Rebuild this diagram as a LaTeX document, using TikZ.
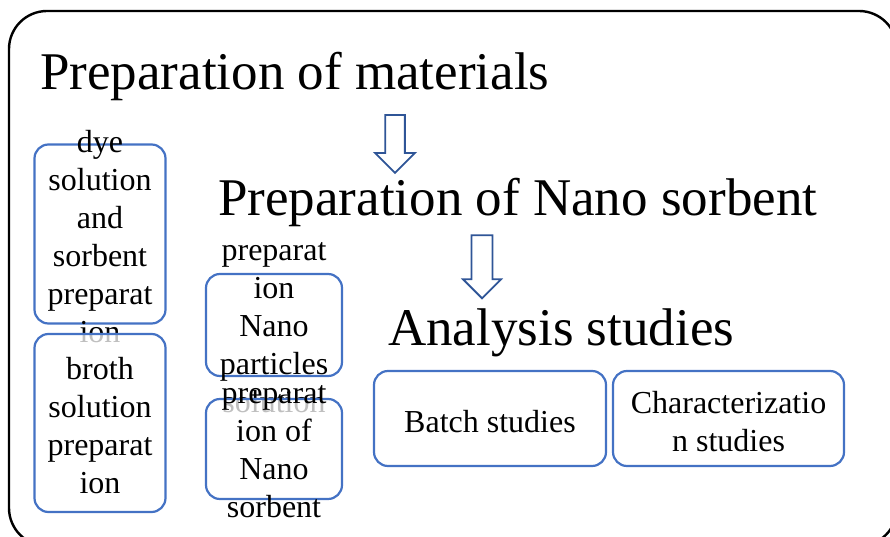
\documentclass[tikz,border=0pt]{standalone}
\usepackage{fontspec}
\setmainfont{Liberation Serif}
\usetikzlibrary{shapes.arrows}
\definecolor{boxblue}{RGB}{68,114,196}
\definecolor{arrowblue}{RGB}{47,85,151}

\begin{document}
\begin{tikzpicture}[x=1pt, y=-1pt,
    box/.style={draw=boxblue, line width=2.2pt, rounded corners=14pt, fill=white, fill opacity=0.75, inner sep=0pt},
    boxtext/.style={align=center, inner sep=0pt, yshift=-3pt, font=\fontsize{32}{38}\selectfont},
    heading/.style={anchor=base west, inner sep=0pt, font=\fontsize{53}{60}\selectfont},
    downarrow/.style={single arrow, draw=arrowblue, line width=1.8pt, fill=white, shape border rotate=270, minimum width=40pt}]
    \useasboundingbox (0,0) rectangle (890,537);
    \clip (0,0) rectangle (890,537);
    % Frame
    \draw[line width=2.4pt, rounded corners=38pt] (9,11) rectangle (897,546);
    % Headings
    \node[heading] (mat) at (40,90) {Preparation of materials};
    \node[heading] (nano) at (218,215) {Preparation of Nano sorbent};
    \node[heading] (ana) at (388,345) {Analysis studies};
    % Arrows
    \node[downarrow, inner sep=6pt, minimum height=58pt] (arr1) at (395,139) {};
    \node[downarrow, inner sep=8pt, minimum height=63pt, minimum width=38pt] (arr2) at (482,261.5) {};
    % Materials
    \node[box, minimum width=131pt, minimum height=179pt] (dye) at (100,234) {};
    \node[boxtext] (dyetxt) at (dye.center) {dye\\solution\\and\\sorbent\\preparat\\ion};
    \node[box, minimum width=131pt, minimum height=178pt] (broth) at (100,423) {};
    \node[boxtext] (brothtxt) at (broth.center) {broth\\solution\\preparat\\ion};
    % Nano sorbent
    \node[box, minimum width=136pt, minimum height=102pt] (part) at (274,325) {};
    \node[boxtext] (parttxt) at (part.center) {preparat\\ion\\Nano\\particles\\solution};
    \node[box, minimum width=136pt, minimum height=100pt] (sorb) at (274,449) {};
    \node[boxtext] (sorbtxt) at (sorb.center) {preparat\\ion of\\Nano\\sorbent};
    % Analysis
    \node[box, minimum width=232pt, minimum height=95pt] (batch) at (490,418.5) {};
    \node[boxtext] (batchtxt) at (batch.center) {Batch studies};
    \node[box, minimum width=231pt, minimum height=95pt] (char) at (728.5,418.5) {};
    \node[boxtext] (chartxt) at (char.center) {Characterizatio\\n studies};
\end{tikzpicture}
\end{document}
